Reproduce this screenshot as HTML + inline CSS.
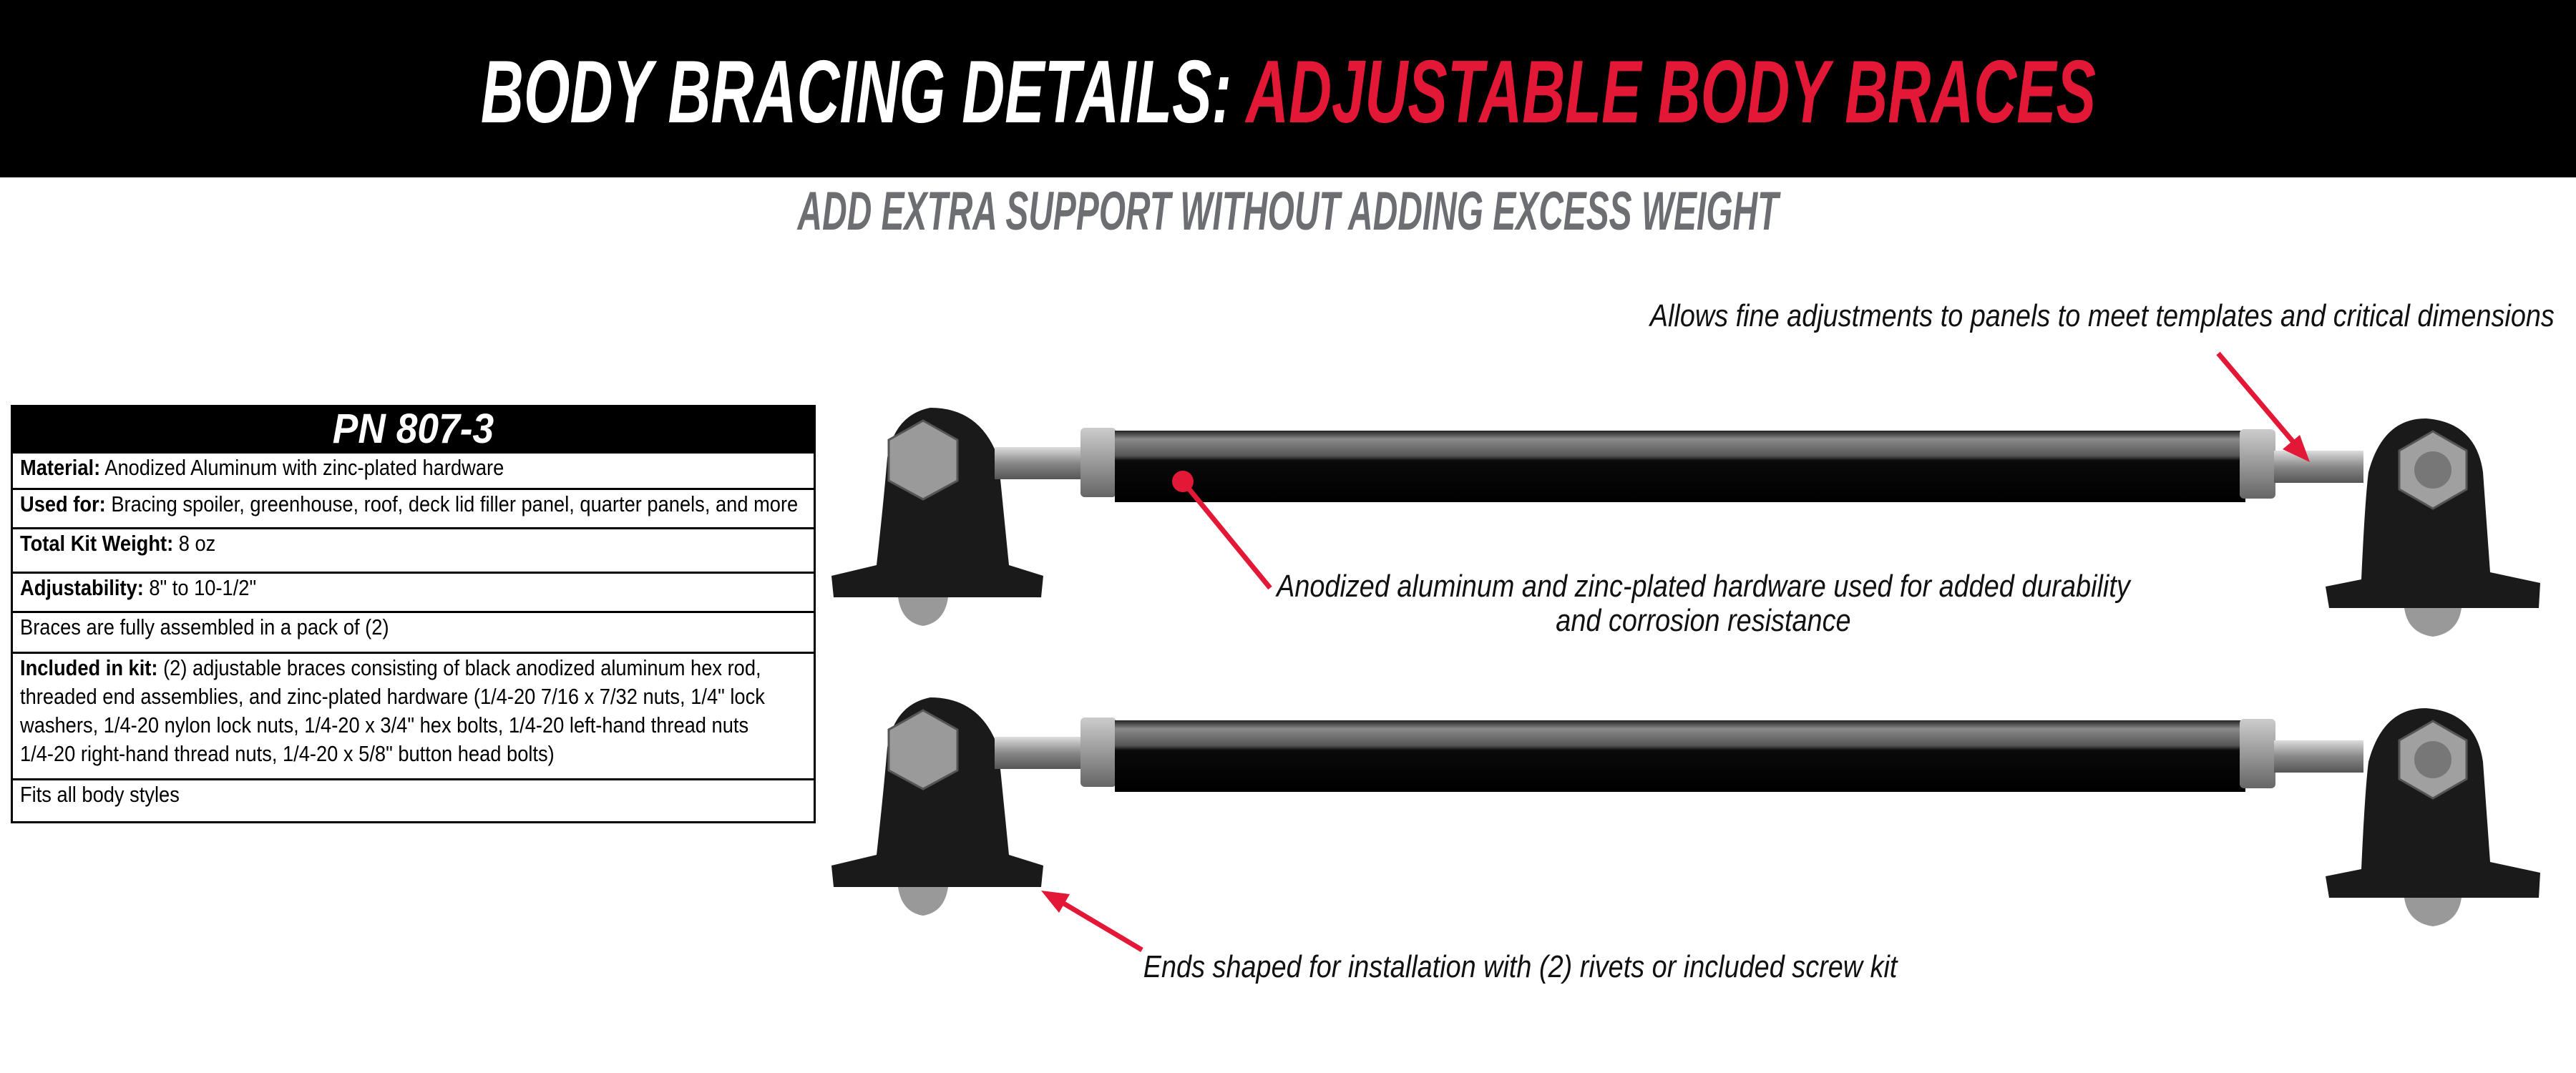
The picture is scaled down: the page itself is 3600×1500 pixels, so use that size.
<!DOCTYPE html>
<html><head><meta charset="utf-8"><style>
*{margin:0;padding:0;box-sizing:border-box}
body{width:3600px;height:1500px;background:#fff;position:relative;overflow:hidden;font-family:"Liberation Sans",sans-serif}
.hdr{position:absolute;left:0;top:0;width:3600px;height:248px;background:#000}
.wrap{position:absolute;left:0;width:3600px;text-align:center;white-space:nowrap}
.title{display:inline-block;font-weight:bold;font-style:italic;font-size:124px;line-height:130px;color:#fff;transform:scaleX(0.67)}
.title span{color:#e31837}
.sub{display:inline-block;font-weight:bold;font-style:italic;font-size:76px;line-height:84px;color:#6d6e71;transform:scaleX(0.63)}
table{position:absolute;left:15px;top:566px;width:1125px;table-layout:fixed;border-collapse:collapse;font-size:31px;line-height:40px}
td{border:3px solid #000;padding:0 10px;vertical-align:top;overflow:visible}
td .c{width:1250px;transform:scaleX(0.88);transform-origin:0 0}
th{background:#000;color:#fff;font-style:italic;font-size:58px;height:62px;line-height:62px;border:3px solid #000}
th span{display:inline-block;transform:scaleX(0.92)}
.note{position:absolute;font-style:italic;font-size:44px;line-height:48px;color:#111;white-space:nowrap}
.note span{display:inline-block;transform:scaleX(0.86)}
svg{position:absolute;left:0;top:0}
</style></head><body>
<div class="hdr"></div>
<div class="wrap" style="top:64px"><div class="title">BODY BRACING DETAILS: <span>ADJUSTABLE BODY BRACES</span></div></div>
<div class="wrap" style="top:254px"><div class="sub">ADD EXTRA SUPPORT WITHOUT ADDING EXCESS WEIGHT</div></div>
<table>
<tr><th><span>PN 807-3</span></th></tr>
<tr><td style="height:51px"><div class="c"><b>Material:</b> Anodized Aluminum with zinc-plated hardware</div></td></tr>
<tr><td style="height:55px"><div class="c"><b>Used for:</b> Bracing spoiler, greenhouse, roof, deck lid filler panel, quarter panels, and more</div></td></tr>
<tr><td style="height:62px"><div class="c"><b>Total Kit Weight:</b> 8 oz</div></td></tr>
<tr><td style="height:55px"><div class="c"><b>Adjustability:</b> 8" to 10-1/2"</div></td></tr>
<tr><td style="height:57px"><div class="c">Braces are fully assembled in a pack of (2)</div></td></tr>
<tr><td style="height:177px"><div class="c"><b>Included in kit:</b> (2) adjustable braces consisting of black anodized aluminum hex rod,<br>threaded end assemblies, and zinc-plated hardware (1/4-20 7/16 x 7/32 nuts, 1/4" lock<br>washers, 1/4-20 nylon lock nuts, 1/4-20 x 3/4" hex bolts, 1/4-20 left-hand thread nuts<br>1/4-20 right-hand thread nuts, 1/4-20 x 5/8" button head bolts)</div></td></tr>
<tr><td style="height:60px"><div class="c">Fits all body styles</div></td></tr>
</table>

<svg width="3600" height="1500" viewBox="0 0 3600 1500">
<defs>
<linearGradient id="thr" x1="0" y1="0" x2="0" y2="1"><stop offset="0" stop-color="#ddd"/><stop offset=".5" stop-color="#888"/><stop offset="1" stop-color="#555"/></linearGradient>
<linearGradient id="nut" x1="0" y1="0" x2="0" y2="1"><stop offset="0" stop-color="#ccc"/><stop offset=".5" stop-color="#999"/><stop offset="1" stop-color="#666"/></linearGradient>
<linearGradient id="rod" x1="0" y1="0" x2="0" y2="1"><stop offset="0" stop-color="#222"/><stop offset=".12" stop-color="#8a8a8a"/><stop offset=".35" stop-color="#555"/><stop offset=".42" stop-color="#0a0a0a"/><stop offset="1" stop-color="#000"/></linearGradient>
<g id="brace">
 <path d="M1162 805 L1225 790 Q1235 700 1240 640 Q1250 580 1300 570 Q1370 570 1395 640 L1410 790 L1458 805 L1455 835 L1165 835 Z" fill="#1a1a1a"/>
 <polygon points="1290,588 1338,615 1338,672 1290,698 1242,672 1242,615" fill="#9a9a9a" stroke="#555" stroke-width="3"/>
 <path d="M1255 835 Q1260 870 1290 875 Q1320 870 1325 835 Z" fill="#999"/>
 <rect x="1390" y="625" width="125" height="45" fill="url(#thr)"/>
 <rect x="1510" y="598" width="50" height="97" rx="6" fill="url(#nut)"/>
 <rect x="1558" y="602" width="1580" height="100" fill="url(#rod)"/>
 <rect x="3130" y="600" width="50" height="97" rx="6" fill="url(#nut)"/>
 <rect x="3178" y="630" width="125" height="45" fill="url(#thr)"/>
 <path d="M3250 820 L3300 810 Q3305 700 3310 660 Q3330 585 3390 585 Q3460 590 3470 660 L3480 800 L3550 815 L3548 850 L3255 850 Z" fill="#1a1a1a"/>
 <polygon points="3400,603 3447,630 3447,684 3400,711 3353,684 3353,630" fill="#a0a0a0" stroke="#555" stroke-width="3"/>
 <circle cx="3400" cy="657" r="26" fill="#777"/>
 <path d="M3360 850 Q3365 885 3400 890 Q3435 885 3440 850 Z" fill="#999"/>
</g>
</defs>
<use href="#brace"/>
<use href="#brace" transform="translate(0,405)"/>
<g stroke="#e31837" stroke-width="7" fill="#e31837">
 <line x1="1653" y1="673" x2="1775" y2="822"/>
 <circle cx="1653" cy="673" r="15" stroke="none"/>
 <line x1="3100" y1="494" x2="3205" y2="618"/>
 <polygon points="3228,646 3190,628 3214,608" stroke="none"/>
 <line x1="1596" y1="1328" x2="1485" y2="1262"/>
 <polygon points="1455,1245 1495,1250 1480,1276" stroke="none"/>
</g>
</svg>

<div class="note" style="right:30px;top:418px;text-align:right"><span style="transform-origin:100% 0">Allows fine adjustments to panels to meet templates and critical dimensions</span></div>
<div class="note" style="left:1500px;width:1760px;text-align:center;top:796px;"><span>Anodized aluminum and zinc-plated hardware used for added durability<br>and corrosion resistance</span></div>
<div class="note" style="left:1400px;width:1450px;text-align:center;top:1328px;"><span>Ends shaped for installation with (2) rivets or included screw kit</span></div>
</body></html>
